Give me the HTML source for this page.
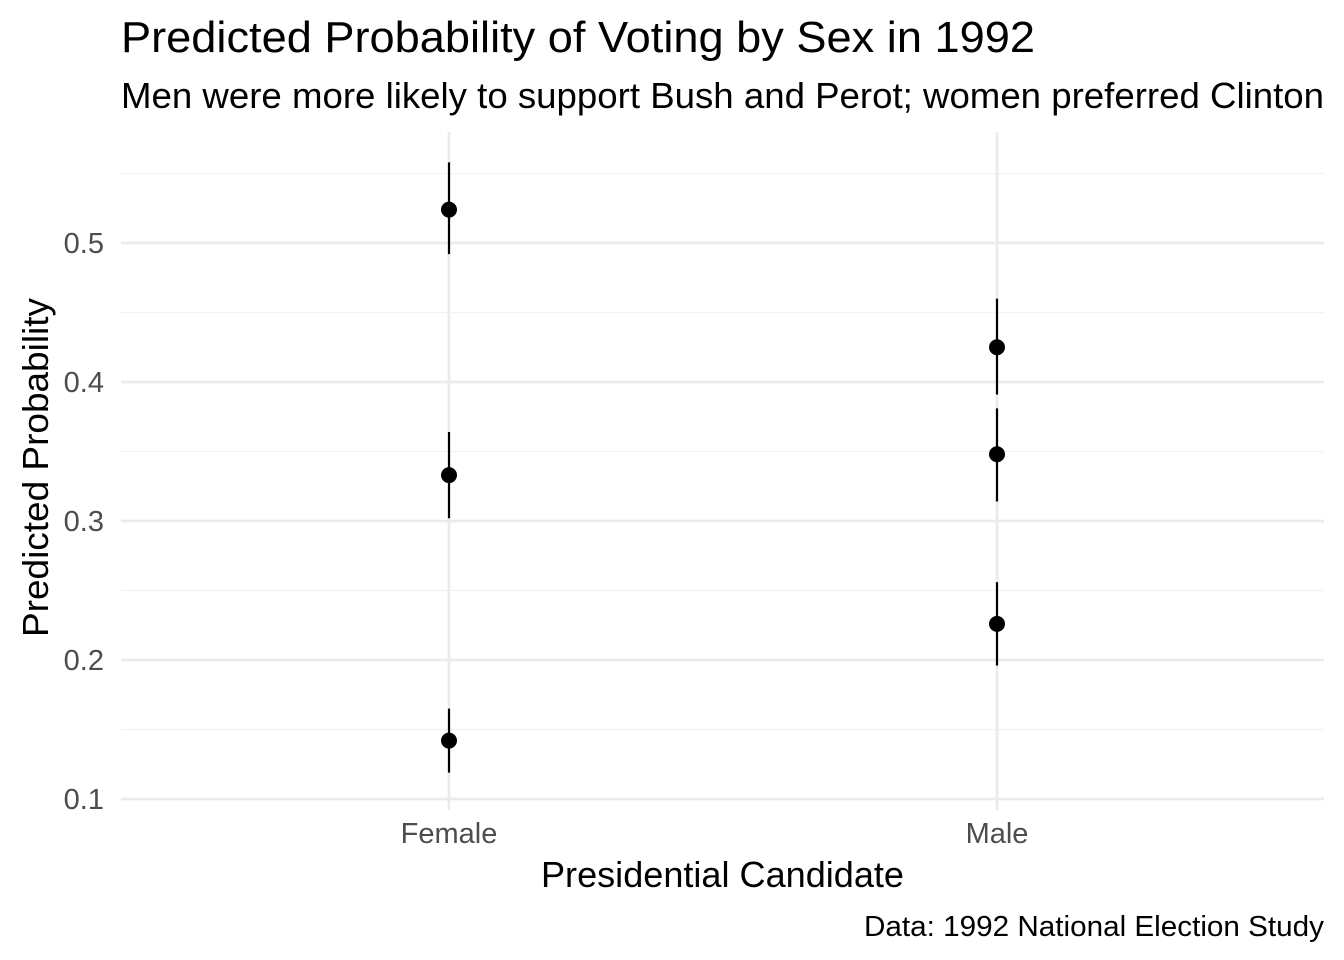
<!DOCTYPE html>
<html><head><meta charset="utf-8"><style>
body{margin:0;background:#fff;}
svg{display:block;font-family:"Liberation Sans",Arial,sans-serif;}
</style></head><body>
<svg id="chart" width="1344" height="960">
<text x="121" y="52" font-size="44" textLength="914" lengthAdjust="spacingAndGlyphs" fill="#000">Predicted Probability of Voting by Sex in 1992</text>
<text x="121" y="108" font-size="36" textLength="1203" lengthAdjust="spacingAndGlyphs" fill="#000">Men were more likely to support Bush and Perot; women preferred Clinton</text>
<g id="grid"></g>
<g id="marks"></g>
<text x="541" y="887" font-size="36" textLength="363" lengthAdjust="spacingAndGlyphs" fill="#000">Presidential Candidate</text>
<text transform="translate(48,637) rotate(-90)" font-size="36" textLength="339" lengthAdjust="spacingAndGlyphs" fill="#000">Predicted Probability</text>
<text x="864" y="936" font-size="29" textLength="460" lengthAdjust="spacingAndGlyphs" fill="#000">Data: 1992 National Election Study</text>
</svg>
<script>
const categories=["Female","Male"];
const estimates=[[0.524,0.333,0.142],[0.425,0.348,0.226]];
const lowers=[[0.492,0.302,0.119],[0.391,0.314,0.196]];
const uppers=[[0.558,0.364,0.165],[0.460,0.381,0.256]];
const yTicks=[0.1,0.2,0.3,0.4,0.5];
const yTickLabels=["0.1","0.2","0.3","0.4","0.5"];
const minorTicks=[0.15,0.25,0.35,0.45,0.55];
const NS="http://www.w3.org/2000/svg";
const px0=121,px1=1324,py0=132,py1=810;
function y(v){return 799-(v-0.1)*1390;}
function x(i){return 449+i*548;}
function mk(tag,attrs,parent){const e=document.createElementNS(NS,tag);for(const k in attrs)e.setAttribute(k,attrs[k]);parent.appendChild(e);return e;}
const grid=document.getElementById('grid'),marks=document.getElementById('marks');
minorTicks.forEach(v=>{const l=mk('line',{x1:px0,x2:px1,y1:y(v),y2:y(v),stroke:'#f2f2f2','stroke-width':1.3},grid);

});
yTicks.forEach((v,i)=>{const l=mk('line',{x1:px0,x2:px1,y1:y(v),y2:y(v),stroke:'#ebebeb','stroke-width':2.7},grid);


const t=mk('text',{x:104,y:y(v)+10,'font-size':29,'text-anchor':'end',fill:'#4d4d4d'},grid);t.textContent=yTickLabels[i];

});
categories.forEach((c,i)=>{const l=mk('line',{x1:x(i),x2:x(i),y1:py0,y2:py1,stroke:'#ebebeb','stroke-width':2.7},grid);


const t=mk('text',{x:x(i),y:843,'font-size':29,'text-anchor':'middle',fill:'#4d4d4d'},grid);t.textContent=c;


estimates[i].forEach((v,j)=>{const e=mk('line',{x1:x(i),x2:x(i),y1:y(uppers[i][j]),y2:y(lowers[i][j]),stroke:'#000','stroke-width':2.2},marks);


const p=mk('circle',{cx:x(i),cy:y(v),r:8,fill:'#000'},marks);

});});
</script>
</body></html>
